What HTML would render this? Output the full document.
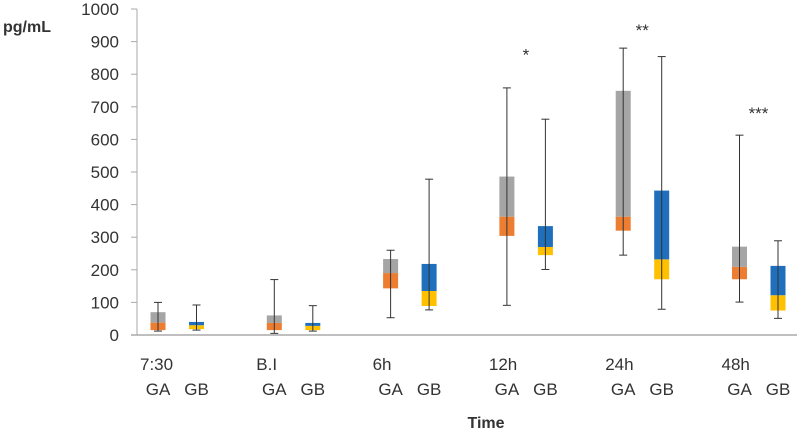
<!DOCTYPE html>
<html><head><meta charset="utf-8"><style>
body{margin:0;background:#fff;width:800px;height:433px;overflow:hidden}
text{font-family:"Liberation Sans",sans-serif;fill:#333}
</style></head><body>
<svg id="chart" width="800" height="433" viewBox="0 0 800 433"></svg>
<script>
const timeLabels=["7:30","B.I","6h","12h","24h","48h"];
const gaMin=[12,5,53,91,245,101];
const gaQ1=[15,15,143,304,320,171];
const gaMed=[38,37,190,363,363,209];
const gaQ3=[70,60,233,486,749,271];
const gaMax=[100,170,260,758,880,613];
const gbMin=[15,12,77,201,79,51];
const gbQ1=[18,15,89,245,171,75];
const gbMed=[30,28,135,270,232,122];
const gbQ3=[40,37,218,334,443,212];
const gbMax=[92,90,478,662,854,289];
const yTicks=[0,100,200,300,400,500,600,700,800,900,1000];
const stars=["","","","*","**","***"];
const starVals=[0,0,0,870,945,690];

const svg=document.getElementById('chart');
const NS='http://www.w3.org/2000/svg';
const y0=335,y1=9;
const Y=v=>y0-(v/1000)*(y0-y1);
const X=(i,g)=>158+i*116.3+g*38.5;
function mk(tag,attrs,parent){const e=document.createElementNS(NS,tag);for(const k in attrs)e.setAttribute(k,attrs[k]);(parent||svg).appendChild(e);return e;}

const ax=mk('line',{x1:131,y1:Y(0),x2:797,y2:Y(0),stroke:'#aaa','stroke-width':1.5});


const ay=mk('line',{x1:137,y1:y1,x2:137,y2:Y(0),stroke:'#aaa','stroke-width':1});


yTicks.forEach(t=>{
 const tk=mk('line',{x1:131,y1:Y(t),x2:137,y2:Y(t),stroke:'#aaa'});
 
 
 const tx=mk('text',{x:119,y:Y(t)+6,'text-anchor':'end','font-size':17});
 tx.textContent=t;
 
 
});
const yt=mk('text',{x:3,y:32,'font-size':16,'font-weight':'bold'});
yt.textContent='pg/mL';


const xt=mk('text',{x:486,y:428,'text-anchor':'middle','font-size':16,'font-weight':'bold'});
xt.textContent='Time';



function box(i,g,mn,q1,md,q3,mx,cLow,cHigh){
 const cx=X(i,g),w=15;
 const grp=mk('g',{});
 
 
 mk('rect',{x:cx-w/2,y:Y(md),width:w,height:Y(q1)-Y(md),fill:cLow},grp);
 mk('rect',{x:cx-w/2,y:Y(q3),width:w,height:Y(md)-Y(q3),fill:cHigh},grp);
 mk('line',{x1:cx,y1:Y(mx),x2:cx,y2:Y(mn),stroke:'#333','stroke-width':1},grp);
 mk('line',{x1:cx-4,y1:Y(mx),x2:cx+4,y2:Y(mx),stroke:'#333','stroke-width':1},grp);
 mk('line',{x1:cx-4,y1:Y(mn),x2:cx+4,y2:Y(mn),stroke:'#333','stroke-width':1},grp);
}
timeLabels.forEach((t,i)=>{
 box(i,0,gaMin[i],gaQ1[i],gaMed[i],gaQ3[i],gaMax[i],'#ed7d31','#a5a5a5');
 box(i,1,gbMin[i],gbQ1[i],gbMed[i],gbQ3[i],gbMax[i],'#ffc000','#1f6fbd');
 const tl=mk('text',{x:X(i,0)-18,y:370,'font-size':17});
 tl.textContent=t;
 
 
 ['GA','GB'].forEach((s,g)=>{
  const e=mk('text',{x:X(i,g),y:395,'text-anchor':'middle','font-size':17});
  e.textContent=s;
  
  
 });
 if(stars[i]){
  const s=mk('text',{x:X(i,0)+19,y:Y(starVals[i])+9,'text-anchor':'middle','font-size':17});
  s.textContent=stars[i];
  
  
 }
});
</script>
</body></html>
